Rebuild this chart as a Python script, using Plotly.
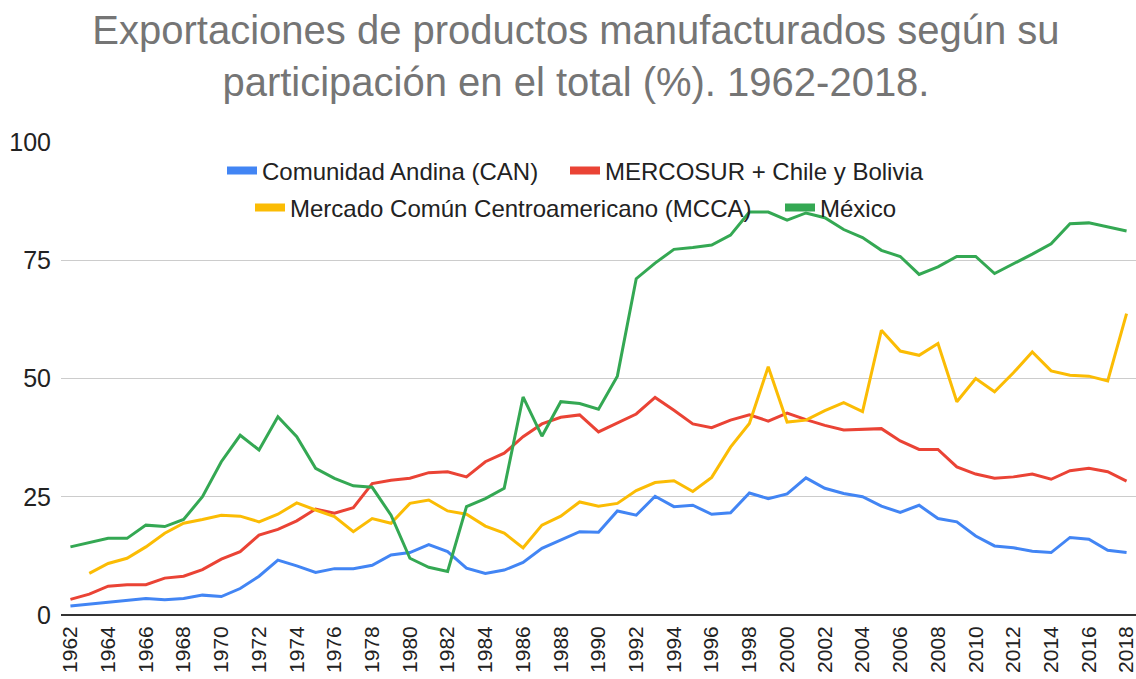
import plotly.graph_objects as go

years = list(range(1962, 2019))

can = [1.9, 2.3, 2.8, 3.2, 3.5, 3.2, 3.5, 4.2, 3.9, 5.6, 8.2, 11.6, 10.4, 9.0, 9.8, 9.8, 10.5,
       12.7, 13.2, 14.9, 13.4, 9.9, 8.8, 9.5, 11.1, 14.1, 15.8, 17.6, 17.5, 22.0, 21.1, 25.1,
       22.9, 23.2, 21.3, 21.6, 25.8, 24.6, 25.6, 29.0, 26.8, 25.7, 25.0, 23.0, 21.7, 23.2,
       20.4, 19.7, 16.7, 14.6, 14.2, 13.5, 13.2, 16.4, 16.0, 13.7, 13.2]

mercosur = [3.3, 4.4, 6.1, 6.4, 6.4, 7.8, 8.2, 9.6, 11.8, 13.4, 16.9, 18.1, 19.9, 22.4, 21.5,
            22.7, 27.8, 28.5, 28.9, 30.1, 30.3, 29.2, 32.4, 34.2, 37.7, 40.4, 41.8, 42.3, 38.7,
            40.6, 42.5, 46.0, 43.3, 40.4, 39.6, 41.2, 42.3, 41.0, 42.7, 41.3, 40.1, 39.1, 39.3,
            39.4, 36.8, 35.0, 35.0, 31.3, 29.8, 28.9, 29.2, 29.8, 28.7, 30.5, 31.0, 30.3, 28.3]

mcca = [None, 8.8, 10.9, 12.0, 14.4, 17.3, 19.4, 20.2, 21.1, 20.9, 19.7, 21.3, 23.7, 22.2, 20.8,
        17.6, 20.4, 19.4, 23.6, 24.3, 22.0, 21.3, 18.8, 17.3, 14.2, 19.0, 20.9, 23.9, 23.0, 23.6,
        26.3, 28.0, 28.4, 26.1, 29.1, 35.5, 40.5, 52.5, 40.8, 41.2, 43.2, 44.9, 43.0, 60.2, 55.8,
        54.9, 57.4, 45.1, 50.0, 47.2, 51.2, 55.6, 51.6, 50.7, 50.5, 49.5, 63.7]

mexico = [14.4, 15.3, 16.2, 16.2, 19.0, 18.7, 20.2, 25.0, 32.4, 38.0, 34.9, 41.9, 37.7, 31.0,
          28.9, 27.3, 27.0, 21.1, 12.0, 10.1, 9.2, 22.9, 24.6, 26.8, 46.1, 37.8, 45.1, 44.7,
          43.5, 50.5, 71.1, 74.4, 77.3, 77.7, 78.2, 80.3, 85.2, 85.2, 83.5, 85.0, 84.0, 81.5,
          79.8, 77.1, 75.8, 72.0, 73.6, 75.8, 75.8, 72.2, 74.2, 76.3, 78.5, 82.7, 82.9, 82.0, 81.2]

tick_years = [str(y) for y in range(1962, 2019, 2)]
y_ticks = [0, 25, 50, 75, 100]

names = ["Comunidad Andina (CAN)", "MERCOSUR + Chile y Bolivia",
         "Mercado Común Centroamericano (MCCA)", "México"]
values = [can, mercosur, mcca, mexico]
colors = ["#4285F4", "#EA4335", "#FBBC04", "#34A853"]
legend_ids = ["legend", "legend2", "legend3", "legend4"]

FONT = "Liberation Sans, Arial, sans-serif"
W, H = 1136, 679
ML, MR, MT, MB = 61, 0, 142, 64
PW, PH = W - ML - MR, H - MT - MB


def px_x(px):
    return (px - ML) / PW


def px_y(py):
    return (H - MB - py) / PH


fig = go.Figure()
for name, vals, color in zip(names, values, colors):
    fig.add_trace(go.Scatter(x=[str(y) for y in years], y=vals, name=name, mode="lines",
                             line=dict(color=color, width=3), showlegend=False))
for name, color, leg in zip(names, colors, legend_ids):
    fig.add_trace(go.Scatter(x=[None], y=[None], name=name, mode="lines",
                             line=dict(color=color, width=8), legend=leg,
                             showlegend=True, hoverinfo="skip"))

# legend item positions (left edge of item, vertical centre) in pixels
leg_pos = [(222, 171), (565, 171), (250, 208), (780, 208)]
legend_layouts = {}
for leg, (lx, ly) in zip(legend_ids, leg_pos):
    legend_layouts[leg] = dict(orientation="h", x=px_x(lx), xanchor="left",
                               y=px_y(ly), yanchor="middle",
                               bgcolor="rgba(0,0,0,0)", borderwidth=0,
                               font=dict(size=24, color="#222222"), itemwidth=30)

fig.update_layout(
    width=W, height=H,
    margin=dict(l=ML, r=MR, t=MT, b=MB),
    paper_bgcolor="white", plot_bgcolor="white",
    font=dict(family=FONT, color="#222222"),
    title=dict(text="Exportaciones de productos manufacturados según su<br>participación en el total (%). 1962-2018.",
               x=0.507, xref="container", xanchor="center",
               y=1 - 44 / H, yref="container", yanchor="top",
               font=dict(family=FONT, size=40, color="#757575")),
    xaxis=dict(type="category", categoryorder="array",
               categoryarray=[str(y) for y in years],
               tickvals=tick_years, ticktext=tick_years, tickangle=-90,
               range=[-0.5, len(years) - 0.5],
               showgrid=False, showline=False, zeroline=False, ticks="",
               ticklabelstandoff=6,
               tickfont=dict(size=21, color="#222222"), automargin=False),
    yaxis=dict(range=[0, 100], tickvals=y_ticks, showgrid=True, gridcolor="#CCCCCC",
               gridwidth=1, zeroline=True, zerolinecolor="#333333", zerolinewidth=2,
               showline=False, ticks="", ticklabelstandoff=9,
               tickfont=dict(size=25, color="#222222"), automargin=False),
    **legend_layouts,
)

fig.write_html("out.html", config={"displayModeBar": False},
               post_script="document.body.style.margin='0';")
